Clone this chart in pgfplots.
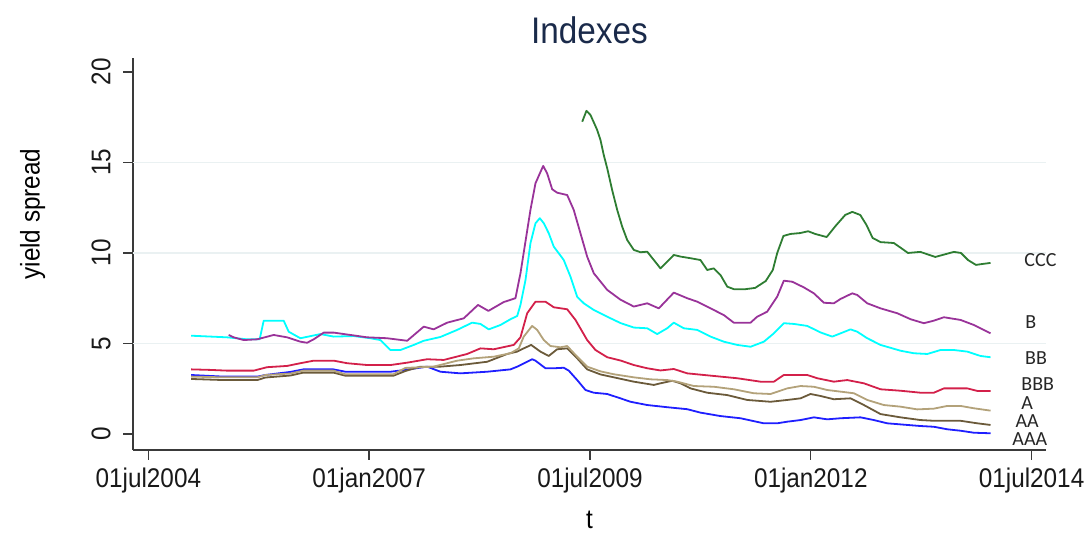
\documentclass[border=0pt]{standalone}
\usepackage{pgfplots}
\pgfplotsset{compat=1.18}
\usepackage{fontspec}
\setmainfont{Liberation Sans}[FakeStretch=0.9]
\newfontfamily\lblfont{Carlito}

\definecolor{cccgreen}{HTML}{2E7D32}
\definecolor{bpurple}{HTML}{993399}
\definecolor{bbcyan}{HTML}{00FFFF}
\definecolor{bbbred}{HTML}{D3204A}
\definecolor{atan}{HTML}{B3A27A}
\definecolor{aabrown}{HTML}{6B5A3A}
\definecolor{aaablue}{HTML}{1F1FFF}
\definecolor{axisgray}{HTML}{3A3A3A}
\definecolor{gridc}{HTML}{EAF1F2}
\definecolor{titlec}{HTML}{1A2A4A}

\begin{document}
\begin{tikzpicture}
\begin{axis}[
    name=ax, at={(0,0)}, anchor=south west,
    scale only axis, width=456.5pt, height=196pt,
    xmin=2004.326, xmax=2014.663, ymin=-0.884, ymax=20.77,
    axis lines*=left,
    axis line style={draw=axisgray, line width=0.7pt, -},
    tick align=outside, major tick length=5pt,
    tick style={draw=axisgray, line width=0.7pt},
    xtick={2004.5,2007,2009.5,2012,2014.5},
    xticklabels={01jul2004,01jan2007,01jul2009,01jan2012,01jul2014},
    ytick={0,5,10,15,20},
    minor tick num=0,
    /pgf/number format/assume math mode=true,
    tick label style={font=\fontsize{13.5}{16}\selectfont, text=black!90},
    xticklabel style={inner sep=0pt, anchor=north},
    xticklabel shift=4pt,
    yticklabel style={rotate=90, inner sep=0pt, anchor=south},
    yticklabel shift=6pt,
    extra y ticks={5,10,15},
    extra y tick labels={},
    extra y tick style={ymajorgrids=true, major tick length=0pt,
      grid style={draw=gridc, line width=0.7pt}},
    title={Indexes},
    title style={at={(axis description cs:0.5,1.040)}, anchor=center,
      font=\fontsize{18.5}{22}\selectfont, text=titlec},
    xlabel={t},
    xlabel style={at={(axis description cs:0.5,-0.179)}, anchor=center,
      font=\fontsize{13.5}{16}\selectfont},
    ylabel={yield spread},
    ylabel style={at={(axis description cs:-0.110,0.602)}, anchor=center,
      font=\fontsize{13.5}{16}\selectfont},
    clip=false,
    every axis plot/.append style={line width=0.9pt, line join=round, mark=none},
  ]
  % AAA
  \addplot[aaablue] coordinates {(2004.984,3.26) (2005.349,3.17) (2005.734,3.17) (2005.825,3.26) (2006.108,3.43) (2006.255,3.57) (2006.595,3.57) (2006.731,3.44) (2007.241,3.44) (2007.410,3.54) (2007.656,3.72) (2007.807,3.44) (2008.033,3.35) (2008.336,3.44) (2008.600,3.57) (2008.676,3.72) (2008.789,3.99) (2008.845,4.13) (2008.883,4.05) (2008.996,3.63) (2009.090,3.63) (2009.203,3.66) (2009.260,3.50) (2009.355,2.98) (2009.449,2.43) (2009.543,2.28) (2009.695,2.21) (2009.845,1.97) (2009.959,1.78) (2010.148,1.60) (2010.374,1.48) (2010.601,1.37) (2010.751,1.18) (2010.978,0.99) (2011.204,0.87) (2011.468,0.59) (2011.620,0.59) (2011.733,0.68) (2011.884,0.77) (2012.035,0.92) (2012.186,0.81) (2012.337,0.87) (2012.563,0.92) (2012.714,0.77) (2012.866,0.59) (2013.092,0.50) (2013.243,0.44) (2013.393,0.40) (2013.545,0.26) (2013.696,0.18) (2013.847,0.07) (2014.035,0.04)};
  % AA
  \addplot[aabrown] coordinates {(2004.984,3.04) (2005.349,2.98) (2005.734,2.98) (2005.825,3.12) (2006.108,3.23) (2006.255,3.39) (2006.595,3.39) (2006.731,3.22) (2007.275,3.22) (2007.410,3.48) (2007.580,3.72) (2007.807,3.72) (2008.033,3.81) (2008.336,3.99) (2008.562,4.42) (2008.676,4.55) (2008.750,4.73) (2008.834,4.92) (2008.939,4.55) (2009.033,4.31) (2009.128,4.68) (2009.242,4.73) (2009.355,4.18) (2009.468,3.57) (2009.619,3.29) (2009.770,3.13) (2009.996,2.89) (2010.223,2.71) (2010.298,2.80) (2010.431,2.94) (2010.525,2.80) (2010.638,2.52) (2010.827,2.28) (2011.054,2.15) (2011.280,1.88) (2011.544,1.78) (2011.733,1.88) (2011.884,1.97) (2011.997,2.21) (2012.110,2.10) (2012.261,1.92) (2012.450,1.97) (2012.601,1.60) (2012.790,1.10) (2013.016,0.92) (2013.243,0.77) (2013.393,0.73) (2013.696,0.73) (2013.885,0.59) (2014.035,0.50)};
  % A
  \addplot[atan] coordinates {(2004.984,3.17) (2005.349,3.13) (2005.734,3.13) (2005.825,3.26) (2006.108,3.34) (2006.255,3.50) (2006.595,3.50) (2006.731,3.30) (2007.275,3.30) (2007.410,3.65) (2007.728,3.72) (2007.996,4.05) (2008.184,4.18) (2008.410,4.27) (2008.600,4.46) (2008.694,4.73) (2008.750,5.38) (2008.845,5.97) (2008.902,5.75) (2008.977,5.19) (2009.053,4.86) (2009.166,4.79) (2009.242,4.86) (2009.355,4.27) (2009.468,3.72) (2009.619,3.46) (2009.770,3.30) (2009.996,3.13) (2010.185,3.02) (2010.374,2.98) (2010.487,2.89) (2010.676,2.65) (2010.902,2.61) (2011.129,2.47) (2011.355,2.25) (2011.544,2.21) (2011.733,2.52) (2011.884,2.65) (2012.035,2.61) (2012.186,2.43) (2012.337,2.34) (2012.488,2.25) (2012.639,1.88) (2012.827,1.60) (2013.016,1.51) (2013.205,1.36) (2013.393,1.40) (2013.545,1.55) (2013.696,1.55) (2013.847,1.42) (2014.035,1.29)};
  % BBB
  \addplot[bbbred] coordinates {(2004.984,3.57) (2005.202,3.54) (2005.391,3.50) (2005.693,3.50) (2005.844,3.69) (2006.071,3.76) (2006.221,3.91) (2006.372,4.05) (2006.599,4.05) (2006.750,3.91) (2006.977,3.81) (2007.241,3.81) (2007.430,3.94) (2007.656,4.13) (2007.844,4.09) (2008.109,4.42) (2008.260,4.73) (2008.410,4.68) (2008.637,4.92) (2008.713,5.34) (2008.789,6.67) (2008.883,7.31) (2008.996,7.31) (2009.090,7.00) (2009.242,6.89) (2009.336,6.30) (2009.468,5.19) (2009.562,4.64) (2009.695,4.24) (2009.845,4.06) (2009.996,3.81) (2010.148,3.63) (2010.298,3.51) (2010.449,3.59) (2010.601,3.35) (2010.789,3.26) (2010.978,3.17) (2011.167,3.08) (2011.431,2.89) (2011.582,2.89) (2011.695,3.26) (2011.960,3.26) (2012.073,3.08) (2012.261,2.89) (2012.412,2.98) (2012.601,2.80) (2012.790,2.47) (2013.016,2.39) (2013.243,2.28) (2013.393,2.28) (2013.507,2.52) (2013.772,2.52) (2013.885,2.38) (2014.035,2.38)};
  % BB
  \addplot[bbcyan] coordinates {(2004.984,5.43) (2005.391,5.34) (2005.618,5.23) (2005.760,5.23) (2005.806,6.26) (2006.032,6.26) (2006.089,5.65) (2006.221,5.29) (2006.448,5.52) (2006.599,5.38) (2006.825,5.41) (2007.014,5.29) (2007.127,5.19) (2007.241,4.64) (2007.354,4.64) (2007.505,4.92) (2007.618,5.15) (2007.807,5.36) (2007.996,5.75) (2008.166,6.15) (2008.260,6.08) (2008.354,5.78) (2008.486,6.02) (2008.600,6.34) (2008.676,6.52) (2008.713,7.13) (2008.770,8.51) (2008.826,10.54) (2008.883,11.64) (2008.932,11.92) (2008.977,11.64) (2009.033,11.09) (2009.090,10.35) (2009.147,9.98) (2009.203,9.61) (2009.279,8.69) (2009.355,7.58) (2009.430,7.22) (2009.543,6.85) (2009.695,6.48) (2009.845,6.13) (2009.996,5.88) (2010.148,5.84) (2010.261,5.52) (2010.374,5.84) (2010.449,6.15) (2010.562,5.84) (2010.714,5.75) (2010.865,5.38) (2011.015,5.10) (2011.167,4.92) (2011.318,4.82) (2011.469,5.10) (2011.582,5.56) (2011.695,6.12) (2011.808,6.08) (2011.960,5.97) (2012.110,5.61) (2012.243,5.38) (2012.337,5.56) (2012.450,5.78) (2012.526,5.65) (2012.639,5.29) (2012.790,4.92) (2013.016,4.60) (2013.167,4.46) (2013.319,4.42) (2013.469,4.64) (2013.620,4.64) (2013.772,4.55) (2013.922,4.31) (2014.035,4.24)};
  % B
  \addplot[bpurple] coordinates {(2005.409,5.47) (2005.466,5.34) (2005.579,5.19) (2005.731,5.23) (2005.919,5.47) (2006.071,5.34) (2006.221,5.10) (2006.297,5.04) (2006.372,5.23) (2006.485,5.60) (2006.599,5.60) (2006.788,5.47) (2006.977,5.34) (2007.203,5.29) (2007.430,5.15) (2007.618,5.93) (2007.731,5.78) (2007.883,6.15) (2008.071,6.39) (2008.232,7.13) (2008.350,6.80) (2008.524,7.29) (2008.656,7.50) (2008.713,8.88) (2008.826,12.38) (2008.883,13.85) (2008.970,14.81) (2009.015,14.40) (2009.072,13.52) (2009.128,13.33) (2009.242,13.20) (2009.316,12.38) (2009.392,11.09) (2009.468,9.80) (2009.543,8.88) (2009.695,7.96) (2009.845,7.42) (2009.996,7.04) (2010.148,7.22) (2010.279,6.94) (2010.449,7.81) (2010.601,7.50) (2010.714,7.31) (2010.865,6.94) (2011.015,6.57) (2011.128,6.15) (2011.318,6.15) (2011.393,6.48) (2011.507,6.76) (2011.620,7.59) (2011.695,8.47) (2011.790,8.41) (2011.921,8.10) (2012.035,7.77) (2012.148,7.25) (2012.261,7.22) (2012.337,7.46) (2012.469,7.77) (2012.526,7.68) (2012.639,7.22) (2012.790,6.94) (2012.979,6.67) (2013.130,6.34) (2013.280,6.12) (2013.393,6.26) (2013.507,6.45) (2013.696,6.30) (2013.847,6.02) (2014.035,5.56)};
  % CCC
  \addplot[cccgreen] coordinates {(2009.412,17.25) (2009.460,17.85) (2009.506,17.62) (2009.581,16.80) (2009.619,16.24) (2009.656,15.41) (2009.695,14.68) (2009.751,13.48) (2009.808,12.38) (2009.865,11.45) (2009.921,10.72) (2009.996,10.17) (2010.072,10.04) (2010.148,10.07) (2010.223,9.61) (2010.298,9.15) (2010.374,9.52) (2010.449,9.89) (2010.525,9.80) (2010.638,9.71) (2010.751,9.61) (2010.827,9.06) (2010.902,9.15) (2010.978,8.78) (2011.054,8.14) (2011.129,8.00) (2011.260,8.00) (2011.370,8.07) (2011.490,8.45) (2011.570,9.06) (2011.620,10.00) (2011.690,10.94) (2011.770,11.05) (2011.880,11.10) (2011.970,11.20) (2012.050,11.05) (2012.180,10.88) (2012.280,11.49) (2012.390,12.10) (2012.470,12.27) (2012.560,12.10) (2012.630,11.55) (2012.700,10.83) (2012.790,10.60) (2012.940,10.55) (2013.020,10.28) (2013.100,10.00) (2013.240,10.06) (2013.410,9.78) (2013.620,10.06) (2013.700,10.00) (2013.780,9.61) (2013.870,9.34) (2013.940,9.39) (2014.035,9.45)};
  \begin{scope}[every node/.style={font=\lblfont\fontsize{10}{12}\selectfont, text=black!85, inner sep=0pt}]
    \node at (axis cs:2014.60,9.61) {CCC};
    \node at (axis cs:2014.49,6.19) {B};
    \node at (axis cs:2014.55,4.20) {BB};
    \node at (axis cs:2014.57,2.76) {BBB};
    \node at (axis cs:2014.45,1.72) {A};
    \node at (axis cs:2014.45,0.70) {AA};
    \node at (axis cs:2014.48,-0.30) {AAA};
  \end{scope}
\end{axis}
\pgfresetboundingbox
\path[use as bounding box] ([xshift=-66.5pt,yshift=-43pt]ax.south west) rectangle ([xshift=19pt,yshift=29pt]ax.north east);
\end{tikzpicture}
\end{document}
